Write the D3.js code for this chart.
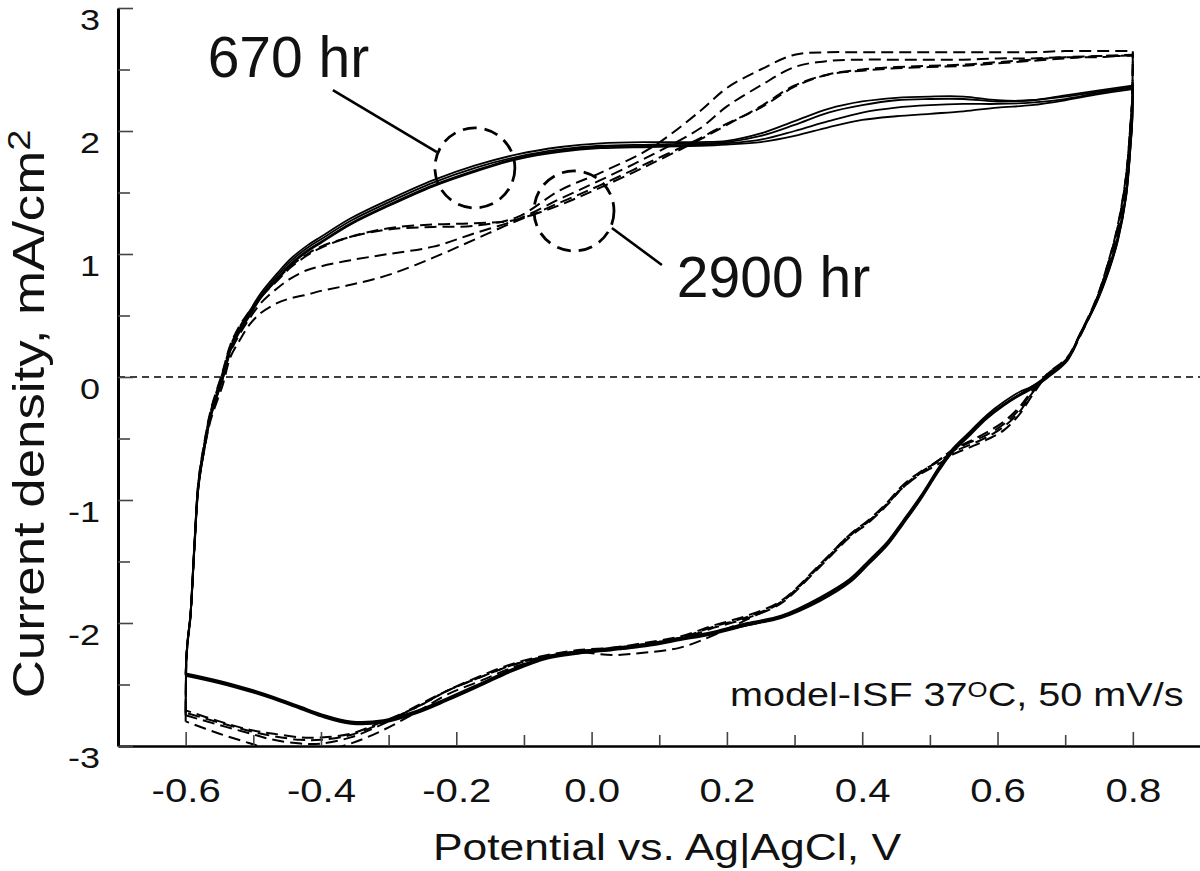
<!DOCTYPE html>
<html><head><meta charset="utf-8">
<script src="https://cdn.jsdelivr.net/npm/d3@7"></script>
<style>
html,body{margin:0;padding:0;background:#fff;}
svg{display:block;}
</style></head><body>
<svg id="chart" width="1200" height="871"></svg>
<script>
// ---------- axis ticks ----------
const xTicks = [-0.6, -0.4, -0.2, 0.0, 0.2, 0.4, 0.6, 0.8];
const xMinorTicks = [-0.5, -0.3, -0.1, 0.1, 0.3, 0.5, 0.7];
const yTicks = [-3, -2, -1, 0, 1, 2, 3];
const yMinorTicks = [-2.5, -1.5, -0.5, 0.5, 1.5, 2.5];

// ---------- potential grids (V vs Ag|AgCl) ----------
const anodicE = [-0.600, -0.599, -0.597, -0.593, -0.587, -0.581, -0.572, -0.563, -0.545, -0.534,
  -0.520, -0.505, -0.489, -0.465, -0.445, -0.420, -0.400, -0.356, -0.300, -0.234,
  -0.172, -0.110, -0.046, 0.013, 0.087, 0.160, 0.200, 0.250, 0.300, 0.350,
  0.400, 0.450, 0.500, 0.550, 0.600, 0.650, 0.700, 0.750, 0.800];
const cathodicE = [0.800, 0.799, 0.797, 0.790, 0.778, 0.765, 0.747, 0.722, 0.703, 0.673,
  0.650, 0.633, 0.610, 0.584, 0.560, 0.534, 0.515, 0.486, 0.460, 0.437,
  0.410, 0.382, 0.338, 0.280, 0.230, 0.180, 0.131, 0.080, 0.032, -0.020,
  -0.065, -0.116, -0.164, -0.213, -0.257, -0.308, -0.356, -0.400, -0.430, -0.470,
  -0.504, -0.550, -0.600];

// ---------- 670 hr cycles (solid), current density mA/cm2 ----------
const h670Anodic1 = [-2.42, -2.28, -2.14, -1.95, -1.38, -0.88, -0.55, -0.30, 0.02, 0.24, 0.40, 0.54, 0.68, 0.84, 0.96, 1.07, 1.14, 1.29, 1.44, 1.60, 1.72, 1.81, 1.87, 1.90, 1.91, 1.91, 1.92, 1.98, 2.08, 2.18, 2.24, 2.27, 2.28, 2.28, 2.25, 2.25, 2.29, 2.33, 2.37];
const h670Anodic2 = [-2.43, -2.29, -2.15, -1.96, -1.40, -0.90, -0.57, -0.32, 0.00, 0.22, 0.38, 0.52, 0.66, 0.82, 0.94, 1.05, 1.12, 1.27, 1.42, 1.58, 1.70, 1.79, 1.85, 1.88, 1.89, 1.90, 1.91, 1.96, 2.05, 2.15, 2.21, 2.25, 2.26, 2.26, 2.24, 2.25, 2.28, 2.32, 2.36];
const h670Anodic3 = [-2.41, -2.27, -2.13, -1.94, -1.37, -0.87, -0.56, -0.31, 0.01, 0.23, 0.38, 0.51, 0.65, 0.80, 0.92, 1.03, 1.10, 1.25, 1.40, 1.56, 1.68, 1.78, 1.84, 1.87, 1.88, 1.89, 1.90, 1.93, 2.00, 2.08, 2.15, 2.19, 2.21, 2.22, 2.22, 2.23, 2.26, 2.31, 2.35];
const h670Anodic4 = [-2.42, -2.28, -2.14, -1.95, -1.39, -0.89, -0.58, -0.33, -0.01, 0.21, 0.37, 0.50, 0.64, 0.79, 0.91, 1.02, 1.09, 1.24, 1.39, 1.55, 1.67, 1.77, 1.83, 1.86, 1.87, 1.88, 1.89, 1.91, 1.96, 2.03, 2.09, 2.12, 2.14, 2.16, 2.19, 2.21, 2.25, 2.30, 2.34];
const h670Cathodic1 = [2.37, 2.10, 1.94, 1.50, 1.15, 0.90, 0.63, 0.35, 0.14, 0.00, -0.08, -0.14, -0.22, -0.32, -0.45, -0.59, -0.73, -0.98, -1.18, -1.35, -1.50, -1.65, -1.80, -1.95, -2.01, -2.08, -2.13, -2.18, -2.21, -2.24, -2.28, -2.38, -2.50, -2.62, -2.72, -2.80, -2.81, -2.75, -2.69, -2.61, -2.55, -2.48, -2.42];
const h670Cathodic2 = [2.36, 2.08, 1.92, 1.48, 1.13, 0.88, 0.62, 0.34, 0.13, -0.01, -0.10, -0.15, -0.23, -0.34, -0.47, -0.61, -0.75, -1.00, -1.20, -1.37, -1.52, -1.67, -1.82, -1.96, -2.02, -2.09, -2.14, -2.19, -2.22, -2.25, -2.29, -2.39, -2.51, -2.63, -2.73, -2.81, -2.82, -2.76, -2.70, -2.62, -2.56, -2.49, -2.43];
const h670Cathodic3 = [2.35, 2.07, 1.91, 1.47, 1.12, 0.88, 0.62, 0.35, 0.15, 0.01, -0.08, -0.12, -0.20, -0.31, -0.44, -0.58, -0.72, -0.97, -1.17, -1.34, -1.49, -1.64, -1.79, -1.94, -2.00, -2.07, -2.12, -2.17, -2.20, -2.23, -2.27, -2.37, -2.49, -2.61, -2.71, -2.79, -2.80, -2.74, -2.68, -2.60, -2.54, -2.47, -2.41];
const h670Cathodic4 = [2.34, 2.06, 1.90, 1.46, 1.11, 0.87, 0.61, 0.34, 0.14, 0.00, -0.09, -0.14, -0.22, -0.33, -0.46, -0.60, -0.74, -0.99, -1.19, -1.36, -1.51, -1.66, -1.81, -1.95, -2.02, -2.08, -2.13, -2.18, -2.21, -2.24, -2.28, -2.38, -2.50, -2.62, -2.72, -2.80, -2.81, -2.75, -2.69, -2.61, -2.55, -2.48, -2.42];

// ---------- 2900 hr cycles (dashed) ----------
const h2900Anodic1 = [-2.71, -2.30, -2.14, -1.93, -1.34, -0.84, -0.52, -0.27, 0.05, 0.26, 0.42, 0.54, 0.66, 0.79, 0.90, 1.00, 1.06, 1.14, 1.20, 1.22, 1.23, 1.30, 1.52, 1.66, 1.86, 2.16, 2.35, 2.50, 2.62, 2.64, 2.64, 2.64, 2.64, 2.64, 2.64, 2.64, 2.65, 2.65, 2.65];
const h2900Anodic2 = [-2.75, -2.31, -2.15, -1.94, -1.35, -0.85, -0.53, -0.28, 0.04, 0.25, 0.41, 0.53, 0.65, 0.78, 0.89, 0.99, 1.05, 1.14, 1.21, 1.24, 1.25, 1.28, 1.42, 1.56, 1.75, 1.94, 2.06, 2.19, 2.36, 2.46, 2.49, 2.51, 2.52, 2.53, 2.55, 2.57, 2.59, 2.61, 2.62];
const h2900Anodic3 = [-2.80, -2.31, -2.15, -1.94, -1.36, -0.86, -0.55, -0.31, -0.01, 0.20, 0.35, 0.48, 0.60, 0.72, 0.80, 0.87, 0.90, 0.95, 1.00, 1.06, 1.17, 1.28, 1.45, 1.60, 1.80, 2.02, 2.20, 2.37, 2.52, 2.57, 2.58, 2.58, 2.58, 2.58, 2.59, 2.59, 2.60, 2.60, 2.61];
const h2900Anodic4 = [-2.73, -2.32, -2.16, -1.96, -1.38, -0.88, -0.58, -0.35, -0.06, 0.16, 0.30, 0.43, 0.52, 0.60, 0.64, 0.67, 0.70, 0.75, 0.83, 0.97, 1.12, 1.27, 1.40, 1.54, 1.73, 1.93, 2.05, 2.20, 2.37, 2.46, 2.50, 2.52, 2.53, 2.54, 2.56, 2.58, 2.60, 2.61, 2.62];
const h2900Cathodic1 = [2.65, 2.27, 2.10, 1.64, 1.24, 0.96, 0.65, 0.35, 0.16, 0.02, -0.14, -0.28, -0.40, -0.49, -0.55, -0.61, -0.68, -0.77, -0.88, -1.02, -1.16, -1.28, -1.52, -1.82, -1.94, -2.02, -2.11, -2.16, -2.20, -2.22, -2.26, -2.33, -2.43, -2.55, -2.68, -2.80, -2.90, -2.93, -2.93, -2.90, -2.87, -2.80, -2.71];
const h2900Cathodic2 = [2.62, 2.25, 2.08, 1.62, 1.22, 0.95, 0.64, 0.34, 0.15, 0.01, -0.12, -0.24, -0.36, -0.45, -0.52, -0.59, -0.67, -0.78, -0.90, -1.03, -1.17, -1.29, -1.53, -1.83, -1.95, -2.03, -2.12, -2.17, -2.21, -2.23, -2.27, -2.34, -2.44, -2.55, -2.67, -2.82, -2.93, -2.98, -2.98, -2.95, -2.90, -2.83, -2.75];
const h2900Cathodic3 = [2.60, 2.23, 2.06, 1.60, 1.20, 0.94, 0.63, 0.33, 0.14, 0.01, -0.16, -0.30, -0.43, -0.51, -0.57, -0.63, -0.70, -0.79, -0.90, -1.04, -1.18, -1.30, -1.54, -1.84, -1.96, -2.04, -2.13, -2.18, -2.22, -2.24, -2.28, -2.36, -2.47, -2.58, -2.72, -2.87, -2.98, -3.04, -3.06, -3.04, -2.98, -2.90, -2.80];
const h2900Cathodic4 = [2.63, 2.26, 2.09, 1.63, 1.23, 0.95, 0.64, 0.34, 0.15, 0.02, -0.13, -0.26, -0.38, -0.47, -0.53, -0.60, -0.67, -0.78, -0.89, -1.03, -1.17, -1.28, -1.53, -1.83, -1.97, -2.10, -2.20, -2.24, -2.26, -2.24, -2.27, -2.34, -2.44, -2.55, -2.68, -2.81, -2.91, -2.95, -2.95, -2.92, -2.88, -2.81, -2.73];

// ---------- annotations (data coordinates) ----------
const labelTexts = ["670 hr", "2900 hr"];
const labelAnchors = [[-0.5675, 2.44], [0.126, 0.65]];
const circleCenters = [[-0.1725, 1.70], [-0.026, 1.35]];
const leaderStarts = [[-0.3824, 2.333], [0.030, 1.211]];
const leaderEnds = [[-0.2287, 1.829], [0.1039, 0.911]];
const conditionAnchor = [0.8748, -2.675];

// ---------- drawing ----------
const FONT = '"Liberation Sans", Arial, Helvetica, sans-serif';
const svg = d3.select("#chart");
const x = d3.scaleLinear().domain([-0.7, 0.9]).range([118, 1200.5]);
const y = d3.scaleLinear().domain([-3, 3]).range([746, 8]);

svg.append("defs").append("clipPath").attr("id", "plotclip")
  .append("rect").attr("x", x(-0.7)).attr("y", y(3)).attr("width", x(0.9) - x(-0.7)).attr("height", y(-3) - y(3));

// zero line
svg.append("line").attr("x1", x(-0.7)).attr("x2", x(0.9)).attr("y1", y(0)).attr("y2", y(0))
  .attr("stroke", "#000").attr("stroke-width", 1.7).attr("stroke-dasharray", "7,5");

const line = d3.line().x(d => x(d[0])).y(d => y(d[1])).curve(d3.curveCatmullRom.alpha(0.5));
function loop(an, ca) {
  return anodicE.map((e, i) => [e, an[i]]).concat(cathodicE.map((e, i) => [e, ca[i]]));
}
const solidCycles = [
  loop(h670Anodic1, h670Cathodic1), loop(h670Anodic2, h670Cathodic2),
  loop(h670Anodic3, h670Cathodic3), loop(h670Anodic4, h670Cathodic4)];
const dashedCycles = [
  loop(h2900Anodic1, h2900Cathodic1), loop(h2900Anodic2, h2900Cathodic2),
  loop(h2900Anodic3, h2900Cathodic3), loop(h2900Anodic4, h2900Cathodic4)];

const curves = svg.append("g").attr("clip-path", "url(#plotclip)");
curves.selectAll("path.dash").data(dashedCycles).join("path").attr("class", "dash")
  .attr("d", line).attr("fill", "none").attr("stroke", "#000").attr("stroke-width", 2)
  .attr("stroke-dasharray", "12,6");
curves.selectAll("path.solid").data(solidCycles).join("path").attr("class", "solid")
  .attr("d", line).attr("fill", "none").attr("stroke", "#000").attr("stroke-width", 1.8);

// axes
const fmtX = d => d3.format(".1f")(d).replace("\u2212", "-");
const gx = svg.append("g").attr("transform", `translate(0,${y(-3)})`)
  .call(d3.axisBottom(x).tickValues(xTicks).tickSize(-14).tickSizeOuter(0).tickFormat(fmtX));
svg.append("g").attr("transform", `translate(0,${y(-3)})`)
  .call(d3.axisBottom(x).tickValues(xMinorTicks).tickSize(-11).tickSizeOuter(0).tickFormat(""))
  .call(g => g.select(".domain").remove())
  .selectAll("line").attr("stroke", "#444").attr("stroke-width", 1.6);
gx.attr("font-family", FONT).attr("font-size", 34);
gx.select(".domain").attr("stroke", "#000").attr("stroke-width", 2.6);
gx.selectAll(".tick line").attr("stroke", "#444").attr("stroke-width", 1.6);
gx.selectAll(".tick text").attr("y", null).attr("dy", null).attr("fill", "#111")
  .attr("transform", "translate(0,56) scale(1.18,1)");

const gy = svg.append("g").attr("transform", `translate(${x(-0.7)},0)`)
  .call(d3.axisLeft(y).tickValues(yTicks).tickSize(-15).tickSizeOuter(0).tickFormat(d => String(d)));
svg.append("g").attr("transform", `translate(${x(-0.7)},0)`)
  .call(d3.axisLeft(y).tickValues(yMinorTicks).tickSize(-12).tickSizeOuter(0).tickFormat(""))
  .call(g => g.select(".domain").remove())
  .selectAll("line").attr("stroke", "#444").attr("stroke-width", 1.6);
gy.attr("font-family", FONT).attr("font-size", 30);
gy.select(".domain").attr("stroke", "#000").attr("stroke-width", 3);
gy.selectAll(".tick line").attr("stroke", "#444").attr("stroke-width", 1.6);
gy.selectAll(".tick text").attr("x", null).attr("dy", null).attr("fill", "#111")
  .attr("transform", "translate(-18,21) scale(1.2,1)");

// axis titles
svg.append("text").attr("font-family", FONT).attr("font-size", 37).attr("fill", "#111")
  .attr("text-anchor", "middle").attr("transform", "translate(667,860) scale(1.2,1)")
  .text("Potential vs. Ag|AgCl, V");
const yt = svg.append("text").attr("font-family", FONT).attr("font-size", 44).attr("fill", "#111")
  .attr("text-anchor", "middle").attr("transform", "translate(44,414) rotate(-90) scale(1.2,1)");
yt.append("tspan").text("Current density, mA/cm");
yt.append("tspan").attr("dy", "-0.45em").attr("font-size", "0.72em").text("2");

// condition text
const ct = svg.append("text").attr("font-family", FONT).attr("font-size", 33).attr("fill", "#111")
  .attr("text-anchor", "end")
  .attr("transform", `translate(${x(conditionAnchor[0])},${y(conditionAnchor[1])}) scale(1.2,1)`);
ct.append("tspan").text("model-ISF 37");
ct.append("tspan").attr("dy", "-0.42em").attr("font-size", "0.65em").text("O");
ct.append("tspan").attr("dy", "0.27em").text("C, 50 mV/s");

// annotations
const ann = svg.append("g");
ann.selectAll("circle").data(circleCenters).join("circle")
  .attr("cx", d => x(d[0])).attr("cy", d => y(d[1])).attr("r", 40)
  .attr("fill", "none").attr("stroke", "#000").attr("stroke-width", 2.8).attr("stroke-dasharray", "14,8");
ann.selectAll("line").data(leaderStarts).join("line")
  .attr("x1", d => x(d[0])).attr("y1", d => y(d[1]))
  .attr("x2", (d, i) => x(leaderEnds[i][0])).attr("y2", (d, i) => y(leaderEnds[i][1]))
  .attr("stroke", "#000").attr("stroke-width", 2.6);
ann.selectAll("text").data(labelTexts).join("text")
  .attr("x", (d, i) => x(labelAnchors[i][0])).attr("y", (d, i) => y(labelAnchors[i][1]))
  .attr("font-family", FONT).attr("font-size", 57).attr("fill", "#111").text(d => d);
</script>
</body></html>
